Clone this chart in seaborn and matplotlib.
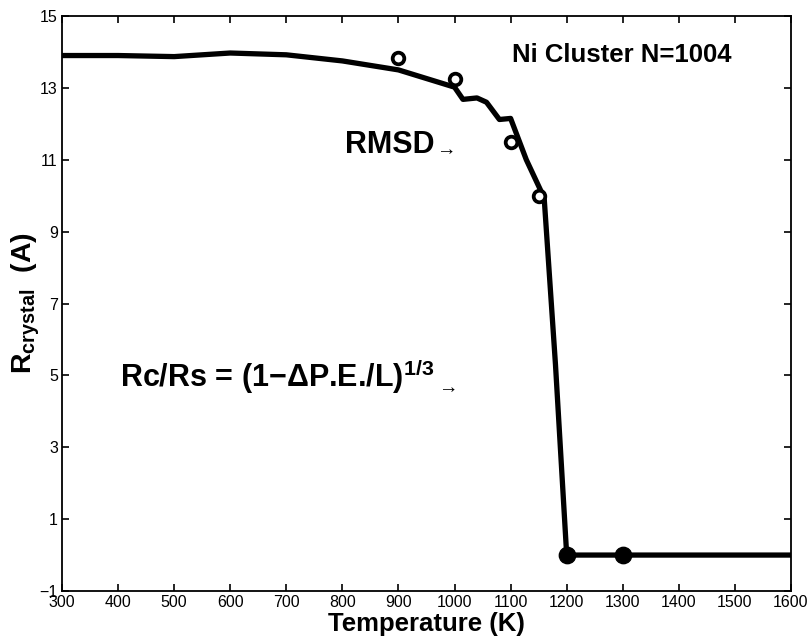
import matplotlib
matplotlib.use("Agg")
import matplotlib.pyplot as plt
import seaborn as sns
import numpy as np
import pandas as pd

# ---- data ----
temp_line = [300, 400, 500, 600, 700, 800, 900, 1000, 1015, 1040, 1057, 1080, 1100,
             1128, 1155, 1160, 1180, 1200, 1300, 1400, 1500, 1600]
r_line = [13.9, 13.9, 13.87, 13.97, 13.92, 13.75, 13.5, 13.02, 12.68, 12.72, 12.6,
          12.12, 12.15, 11.0, 10.1, 9.9, 5.3, 0.0, 0.0, 0.0, 0.0, 0.0]
temp_rmsd = [900, 1000, 1100, 1150]
r_rmsd = [13.82, 13.24, 11.5, 10.0]
temp_melt = [1200, 1300]
r_melt = [0.0, 0.0]
xticks = list(range(300, 1700, 100))
yticks = list(range(-1, 16, 2))

sns.set_style("ticks")
plt.rcParams['font.family'] = ['Liberation Sans', 'DejaVu Sans']
plt.rcParams['mathtext.fontset'] = 'custom'
plt.rcParams['mathtext.rm'] = 'Liberation Sans:bold'
plt.rcParams['mathtext.it'] = 'Liberation Sans:bold'
plt.rcParams['mathtext.bf'] = 'Liberation Sans:bold'
plt.rcParams['mathtext.default'] = 'rm'
plt.rcParams['text.color'] = 'black'
plt.rcParams['axes.labelcolor'] = 'black'
plt.rcParams['xtick.color'] = 'black'
plt.rcParams['ytick.color'] = 'black'

fig = plt.figure(figsize=(8.08, 6.43), dpi=100)
ax = fig.add_axes([62/808, 1-591/643, (791-62)/808, (591-16)/643])

df_line = pd.DataFrame({"T": temp_line, "R": r_line})
sns.lineplot(data=df_line, x="T", y="R", ax=ax, color="black", linewidth=3.8,
             sort=False, estimator=None)
df_rmsd = pd.DataFrame({"T": temp_rmsd, "R": r_rmsd})
sns.scatterplot(data=df_rmsd, x="T", y="R", ax=ax, marker="o", s=70,
                facecolor="white", edgecolor="black", linewidth=2.7, zorder=5)
df_melt = pd.DataFrame({"T": temp_melt, "R": r_melt})
sns.scatterplot(data=df_melt, x="T", y="R", ax=ax, marker="o", s=140,
                color="black", edgecolor="black", zorder=5)

ax.set_xlim(300, 1600)
ax.set_ylim(-1, 15)
ax.set_xticks(xticks)
ax.set_yticks(yticks)
ax.tick_params(direction="in", length=5, width=1.2, labelsize=11.5, pad=3,
               top=True, right=True, colors="black")
for s in ax.spines.values():
    s.set_visible(True)
    s.set_linewidth(1.3)
    s.set_color("black")

ax.set_xlabel("Temperature (K)", fontsize=18.5, fontweight="bold", labelpad=1)
ax.set_ylabel(r"R$_{\mathrm{crystal}}$  (A)", fontsize=20.5, fontweight="bold", labelpad=-2)

fig.text(512/808, 1-62/643, "Ni Cluster N=1004", fontsize=18.5, fontweight="bold",
         ha="left", va="baseline")
fig.text(345/808, 1-153/643, "RMSD", fontsize=22, fontweight="bold",
         ha="left", va="baseline")
fig.text(436/808, 1-151/643, "\u2192", fontsize=14, ha="left", va="center")
fig.text(120/808, 1-387/643, "Rc/Rs = (1\u2212\u0394P.E./L)" + r"$^{1/3}$",
         fontsize=22, fontweight="bold", ha="left", va="baseline")
fig.text(438/808, 1-389/643, "\u2192", fontsize=14, ha="left", va="center")

fig.savefig("out.png", dpi=100)
